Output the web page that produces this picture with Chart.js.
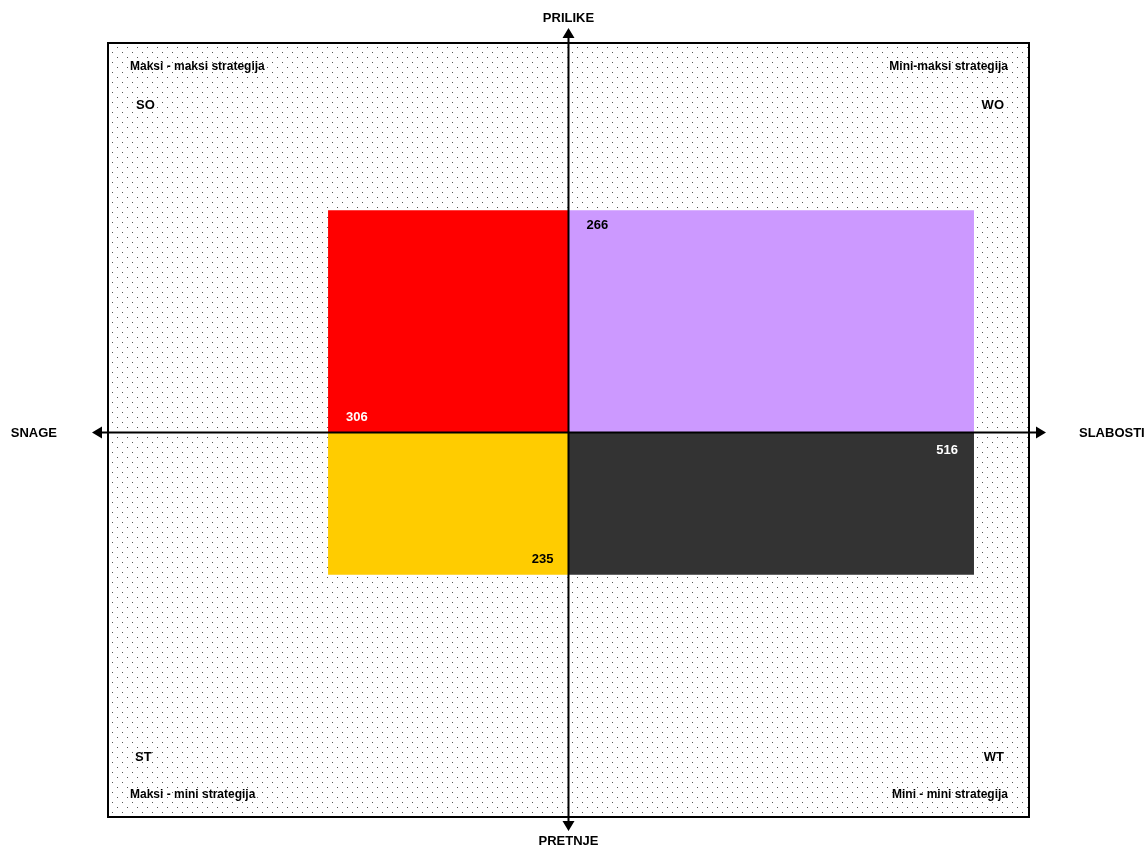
<!DOCTYPE html>
<html>
<head>
<meta charset="utf-8">
<script src="https://cdn.jsdelivr.net/npm/chart.js@4.4.1/dist/chart.umd.min.js"></script>
<style>
  html, body { margin: 0; padding: 0; background: #ffffff; }
  #wrap { width: 1147px; height: 849px; position: relative; }
</style>
</head>
<body>
<div id="wrap"><canvas id="swotChart"></canvas></div>
<script>
// ---- data ----
const factorNames = ['SNAGE', 'SLABOSTI', 'PRILIKE', 'PRETNJE'];
const factorScores = [306, 516, 266, 235]; // S, W, O, T
const quadrantCodes = ['SO', 'WO', 'ST', 'WT'];
const strategyNames = ['Maksi - maksi strategija', 'Mini-maksi strategija', 'Maksi - mini strategija', 'Mini - mini strategija'];
const quadrantColors = ['#FF0000', '#CC99FF', '#FFCC00', '#333333'];

const [S, W, O, T] = factorScores;

function rect(x0, x1, y, axisId, color) {
    return {
        data: [{x: x0, y: y}, {x: x1, y: y}],
        yAxisID: axisId,
        showLine: true,
        fill: 'origin',
        backgroundColor: color,
        borderWidth: 0,
        pointRadius: 0,
        tension: 0
    };
}

// dotted background pattern
function dotPattern(ctx) {
    const tile = document.createElement('canvas');
    tile.width = 10;
    tile.height = 10;
    const t = tile.getContext('2d');
    t.fillStyle = '#ffffff';
    t.fillRect(0, 0, 10, 10);
    t.fillStyle = '#555555';
    t.fillRect(2, 2, 1, 1);
    t.fillRect(7, 7, 1, 1);
    return ctx.createPattern(tile, 'repeat');
}

const swotPlugin = {
    id: 'swotDecor',
    beforeDatasetsDraw(chart) {
        const {ctx, chartArea: a} = chart;
        ctx.save();
        ctx.fillStyle = dotPattern(ctx);
        ctx.fillRect(a.left, a.top, a.right - a.left, a.bottom - a.top);
        ctx.restore();
    },
    afterDatasetsDraw(chart) {
        const {ctx, chartArea: a} = chart;
        const xs = chart.scales.x;
        const yt = chart.scales.yTop;
        const yb = chart.scales.yBottom;
        const cx = xs.getPixelForValue(0);
        const cy = yt.getPixelForValue(0);

        ctx.save();
        // frame
        ctx.strokeStyle = '#000000';
        ctx.lineWidth = 2;
        ctx.strokeRect(a.left, a.top, a.right - a.left, a.bottom - a.top);

        // axes with arrows
        const lx = a.left - 16, rx = a.right + 17;
        const ty = a.top - 15, by = a.bottom + 14;
        ctx.beginPath();
        ctx.moveTo(lx + 6, cy); ctx.lineTo(rx - 6, cy);
        ctx.moveTo(cx, ty + 6); ctx.lineTo(cx, by - 6);
        ctx.stroke();
        ctx.fillStyle = '#000000';
        const head = 10, half = 6;
        ctx.beginPath();
        ctx.moveTo(lx, cy); ctx.lineTo(lx + head, cy - half); ctx.lineTo(lx + head, cy + half); ctx.closePath();
        ctx.moveTo(rx, cy); ctx.lineTo(rx - head, cy - half); ctx.lineTo(rx - head, cy + half); ctx.closePath();
        ctx.moveTo(cx, ty); ctx.lineTo(cx - half, ty + head); ctx.lineTo(cx + half, ty + head); ctx.closePath();
        ctx.moveTo(cx, by); ctx.lineTo(cx - half, by - head); ctx.lineTo(cx + half, by - head); ctx.closePath();
        ctx.fill();

        // axis titles
        ctx.font = 'bold 13px "Liberation Sans", Arial, sans-serif';
        ctx.textBaseline = 'middle';
        ctx.textAlign = 'right';
        ctx.fillText(factorNames[0], lx - 35, cy + 1);
        ctx.textAlign = 'left';
        ctx.fillText(factorNames[1], rx + 33, cy + 1);
        ctx.textAlign = 'center';
        ctx.fillText(factorNames[2], cx, 18);
        ctx.fillText(factorNames[3], cx, 841);

        // corner strategy names
        ctx.font = 'bold 12px "Liberation Sans", Arial, sans-serif';
        ctx.textAlign = 'left';
        ctx.fillText(strategyNames[0], a.left + 22, a.top + 24);
        ctx.fillText(strategyNames[2], a.left + 22, a.bottom - 22);
        ctx.textAlign = 'right';
        ctx.fillText(strategyNames[1], a.right - 21, a.top + 24);
        ctx.fillText(strategyNames[3], a.right - 21, a.bottom - 22);

        // quadrant codes
        ctx.font = 'bold 13px "Liberation Sans", Arial, sans-serif';
        ctx.textAlign = 'left';
        ctx.fillText(quadrantCodes[0], a.left + 28, a.top + 62);
        ctx.fillText(quadrantCodes[2], a.left + 27, a.bottom - 60);
        ctx.textAlign = 'right';
        ctx.fillText(quadrantCodes[1], a.right - 25, a.top + 62);
        ctx.fillText(quadrantCodes[3], a.right - 25, a.bottom - 60);

        // score labels
        const sx = xs.getPixelForValue(-S);
        const wx = xs.getPixelForValue(W);
        const oy = yt.getPixelForValue(O);
        const tyy = yb.getPixelForValue(-T);
        ctx.textAlign = 'left';
        ctx.fillStyle = '#000000';
        ctx.fillText(String(O), cx + 18, oy + 15);
        ctx.fillStyle = '#ffffff';
        ctx.fillText(String(S), sx + 18, cy - 15);
        ctx.textAlign = 'right';
        ctx.fillText(String(W), wx - 16, cy + 18);
        ctx.fillStyle = '#000000';
        ctx.fillText(String(T), cx - 15, tyy - 15);
        ctx.restore();
    }
};

const swotChart = document.getElementById('swotChart');
new Chart(swotChart, {
    type: 'scatter',
    data: {
        datasets: [
            rect(-S, 0, O, 'yTop', quadrantColors[0]),
            rect(0, W, O, 'yTop', quadrantColors[1]),
            rect(-S, 0, -T, 'yBottom', quadrantColors[2]),
            rect(0, W, -T, 'yBottom', quadrantColors[3])
        ]
    },
    options: {
        responsive: true,
        maintainAspectRatio: false,
        animation: false,
        layout: {
            padding: {left: 108, right: 118, top: 43, bottom: 32}
        },
        plugins: {
            legend: false,
            tooltip: {
                enabled: false
            }
        },
        scales: {
            x: {
                type: 'linear',
                min: -586,
                max: 586,
                display: false
            },
            // stacked axes are placed bottom-up in definition order
            yBottom: {
                type: 'linear',
                position: 'left',
                stack: 'swot',
                stackWeight: 384.7,
                min: -635,
                max: 0,
                grid: {display: false, drawTicks: false},
                border: {display: false},
                ticks: {display: false}
            },
            yTop: {
                type: 'linear',
                position: 'left',
                stack: 'swot',
                stackWeight: 389.6,
                min: 0,
                max: 466,
                grid: {display: false, drawTicks: false},
                border: {display: false},
                ticks: {display: false}
            }
        }
    },
    plugins: [swotPlugin]
});
</script>
</body>
</html>
